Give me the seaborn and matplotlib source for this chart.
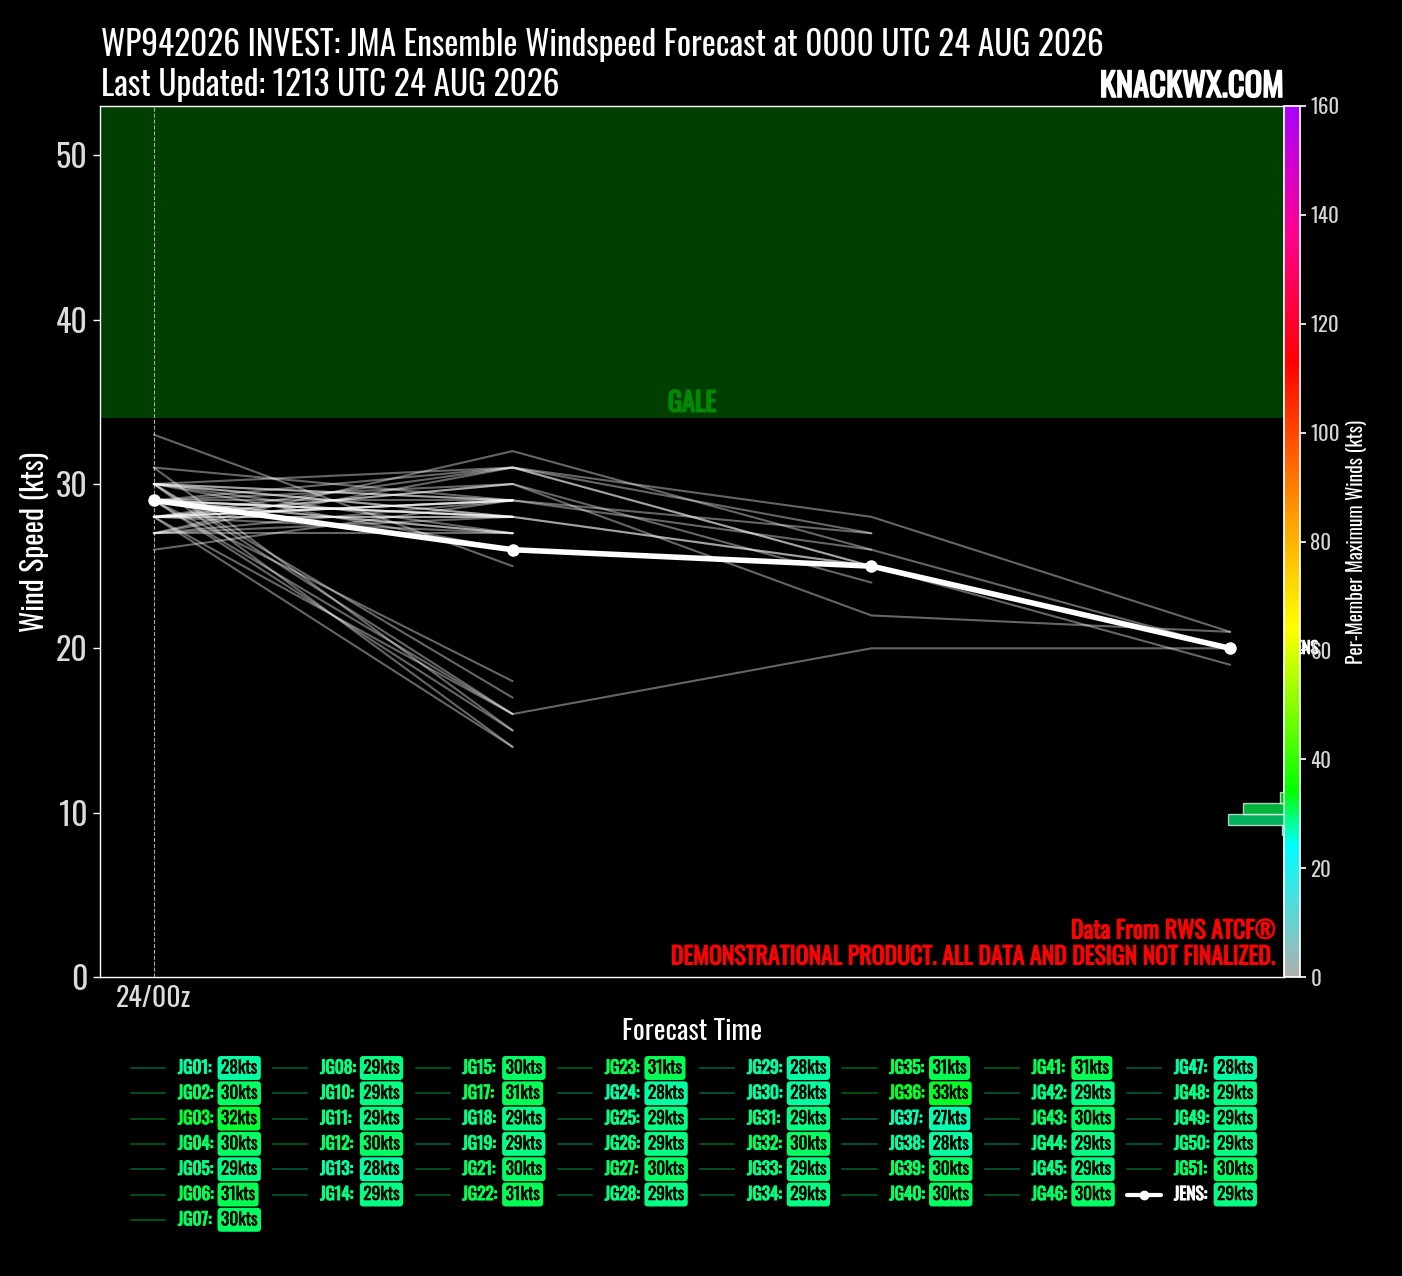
import numpy as np
import pandas as pd
import seaborn as sns
import matplotlib
matplotlib.use("Agg")
import matplotlib.pyplot as plt
import matplotlib.transforms as mtransforms
import matplotlib.patheffects as pe
from matplotlib import font_manager
from matplotlib.colors import LinearSegmentedColormap, Normalize
from matplotlib.cm import ScalarMappable
from matplotlib.lines import Line2D

nan = float("nan")

# forecast hours after 0000 UTC 24 AUG
hours = [0, 6, 12, 18]
tick_hours = [0]
tick_labels = ["24/00z"]

members = ["JG01", "JG02", "JG03", "JG04", "JG05", "JG06", "JG07", "JG08", "JG10", "JG11",
           "JG12", "JG13", "JG14", "JG15", "JG17", "JG18", "JG19", "JG21", "JG22", "JG23",
           "JG24", "JG25", "JG26", "JG27", "JG28", "JG29", "JG30", "JG31", "JG32", "JG33",
           "JG34", "JG35", "JG36", "JG37", "JG38", "JG39", "JG40", "JG41", "JG42", "JG43",
           "JG44", "JG45", "JG46", "JG47", "JG48", "JG49", "JG50", "JG51"]

# windspeed (kts) per member at each forecast hour
wind_00 = [28, 30, 27, 30, 29, 31, 30, 29, 28, 29,
           30, 28, 29, 30, 28, 29, 27, 30, 29, 30,
           28, 29, 26, 30, 29, 27, 28, 29, 29, 28,
           29, 27, 33, 27, 28, 28, 30, 31, 29, 30,
           28, 29, 30, 28, 29, 29, 28, 28]
wind_06 = [28, 28, 32, 29, 28, 29, 27, 29, 29, 27,
           16, 16, 16, 17, 31, 28, 29, 28, 31, 31,
           28, 15, 29, 14, 28, 28, 14, nan, 30, 29,
           18, 31, 25, 27, nan, 30, 26, 15, 28, nan,
           29, nan, 29, 27, 27, nan, 29, 30]
wind_12 = [nan, nan, 26, nan, nan, 27, nan, nan, nan, nan,
           nan, nan, 20, nan, 28, nan, nan, 25, 25, 27,
           nan, nan, nan, nan, 25, nan, nan, nan, 24, nan,
           nan, 25, nan, nan, nan, 22, nan, nan, nan, nan,
           26, nan, nan, nan, nan, nan, nan, nan]
wind_18 = [nan, nan, 20, nan, nan, nan, nan, nan, nan, nan,
           nan, nan, 20, nan, 21, nan, nan, nan, nan, nan,
           nan, nan, nan, nan, nan, nan, nan, nan, nan, nan,
           nan, 19, nan, nan, nan, 21, nan, nan, nan, nan,
           nan, nan, nan, nan, nan, nan, nan, nan]

jens_wind = [29, 26, 25, 20]

# colour scale for per-member maximum winds
cmap_levels = [0, 24, 34, 64, 83, 113, 137, 160]
cmap_colors = ["#b0b0b0", "#00ffff", "#00ff00", "#ffff00", "#ffa500", "#ff0000", "#ff0090", "#aa00ff"]

W, H = 1402, 1276

sns.set_theme(style="dark", rc={
    "figure.facecolor": "black", "axes.facecolor": "black",
    "axes.edgecolor": "white", "text.color": "white",
    "axes.labelcolor": "white", "xtick.color": "white", "ytick.color": "white",
})
names = {f.name for f in font_manager.fontManager.ttflist}
cond = next((n for n in ["Oswald", "Liberation Sans Narrow", "Roboto Condensed"] if n in names), "DejaVu Sans")
light = next((n for n in sorted(names) if "Oswald" in n and "Light" in n), cond)
plt.rcParams["font.family"] = [cond, "DejaVu Sans"]


def bold(color, w=1.0):
    # the condensed face has no heavy weight here, thicken with a stroke
    return [pe.withStroke(linewidth=w, foreground=color)]


cmap = LinearSegmentedColormap.from_list(
    "wind", [(v / 160, c) for v, c in zip(cmap_levels, cmap_colors)])
norm = Normalize(0, 160)

df = pd.DataFrame({"member": members, 0: wind_00, 6: wind_06, 12: wind_12, 18: wind_18})
long = df.melt(id_vars="member", var_name="hour", value_name="wind").dropna()
long["hour"] = long["hour"].astype(float)
max_wind = df[hours].max(axis=1).astype(int).tolist()

fig = plt.figure(figsize=(W / 100, H / 100), dpi=100)
ax = fig.add_axes([100 / W, 1 - 977 / H, 1184 / W, 871 / H])
cax = fig.add_axes([1284 / W, 1 - 977 / H, 16 / W, 871 / H])

# gale band
ax.axhspan(34, 64, color="#003f00", zorder=0, lw=0)
gtr = mtransforms.blended_transform_factory(ax.transAxes, ax.transData)
ax.text(0.5, 34.1, "GALE", transform=gtr, ha="center", va="bottom",
        color="#008a00", fontsize=19, path_effects=bold("#008a00", 1.2))

ax.axvline(0, color="#aaaaaa", ls="--", lw=0.8, zorder=1)

sns.lineplot(data=long, x="hour", y="wind", units="member", estimator=None,
             color="white", alpha=0.4, lw=1.5, legend=False, ax=ax, zorder=2)
ax.plot(hours, jens_wind, color="white", lw=4, marker="o", ms=8, zorder=4)
ax.text(hours[-1] + 1.0, jens_wind[-1], "JENS", color="white", fontsize=12,
        va="center", ha="left", clip_on=False, zorder=4, path_effects=bold("white", 0.8))

ax.set_xlim(-0.9, 18.9)
ax.set_ylim(0, 53)
ax.set_xticks(tick_hours)
ax.set_xticklabels(tick_labels, fontfamily=light)
ax.set_yticks(range(0, 51, 10))
ax.set_yticklabels([str(v) for v in range(0, 51, 10)], fontfamily=light)
ax.tick_params(axis="x", length=0, labelsize=20, labelcolor="#dcdcdc", pad=6)
ax.tick_params(axis="y", length=5, width=1, labelsize=23, labelcolor="#dcdcdc", left=True, pad=4)
ax.set_xlabel("Forecast Time", fontsize=20, labelpad=4)
ax.set_ylabel("Wind Speed (kts)", fontsize=21, labelpad=5)
for s in ax.spines.values():
    s.set_color("white")
    s.set_linewidth(1)
ax.grid(False)

ax.text(0.9932, 0.0528, "Data From RWS ATCF®", transform=ax.transAxes, ha="right", va="center",
        color="red", fontsize=17.2, path_effects=bold("red", 0.8))
ax.text(0.9932, 0.023, "DEMONSTRATIONAL PRODUCT. ALL DATA AND DESIGN NOT FINALIZED.",
        transform=ax.transAxes, ha="right", va="center", color="red", fontsize=17.2,
        path_effects=bold("red", 0.8))

# per-member max wind histogram along colour scale
hax = fig.add_axes(ax.get_position(), frameon=False, zorder=3)
counts, edges = np.histogram(max_wind, bins=np.arange(0, 162, 2))
keep = counts > 0
hax.barh(edges[:-1][keep], counts[keep], height=2, align="edge",
         color=[cmap(norm(e + 1)) for e in edges[:-1][keep]], alpha=0.7)
hax.set_ylim(0, 160)
hax.set_xlim(550, 0)
hax.axis("off")

cb = fig.colorbar(ScalarMappable(norm=norm, cmap=cmap), cax=cax, ticks=range(0, 161, 20))
cb.outline.set_edgecolor("white")
cax.set_yticklabels([str(v) for v in range(0, 161, 20)], fontfamily=light)
cax.tick_params(labelsize=15, labelcolor="#d6d6d6", length=4, color="white")
cb.set_label("Per-Member Maximum Winds (kts)", fontsize=14, color="white", labelpad=4)

# titles
fig.text(101 / W, 1 - 45 / H, "WP942026 INVEST: JMA Ensemble Windspeed Forecast at 0000 UTC 24 AUG 2026",
         fontsize=24, va="center", ha="left")
fig.text(101 / W, 1 - 85 / H, "Last Updated: 1213 UTC 24 AUG 2026", fontsize=24, va="center", ha="left")
fig.text(1284 / W, 1 - 87 / H, "KNACKWX.COM", fontsize=23.5, va="center", ha="right",
         path_effects=bold("white", 1.2))

# legend laid out as 8 columns
rows_per_col = [7, 6, 6, 6, 6, 6, 6, 6]
slots = [(c, r) for c, n in enumerate(rows_per_col) for r in range(n)]
labels = members + ["JENS"]
label_max = max_wind + [jens_wind[0]]
for i, (lab, mx) in enumerate(zip(labels, label_max)):
    c, r = slots[i]
    x0 = 131 + c * 142.3
    yf = 1 - (1068 + r * 25.3) / H
    col = cmap(norm(mx))
    if lab == "JENS":
        fig.add_artist(Line2D([x0 / W, (x0 + 17) / W, (x0 + 34) / W], [yf] * 3, transform=fig.transFigure,
                              color="white", lw=3, marker="o", ms=6, markevery=[1]))
        tcol = "white"
    else:
        fig.add_artist(Line2D([x0 / W, (x0 + 34) / W], [yf, yf], transform=fig.transFigure,
                              color=col, alpha=0.3, lw=1.5))
        tcol = col
    fig.text((x0 + 47) / W, yf, lab + ":", color=tcol, fontsize=12.5, va="center", ha="left",
             path_effects=bold(tcol, 0.8))
    fig.text((x0 + 90) / W, yf, f"{mx}kts", color="black", fontsize=12.5, va="center", ha="left",
             path_effects=bold("black", 0.4),
             bbox=dict(boxstyle="round,pad=0.2", fc=col, ec="none"))

fig.savefig("out.png", dpi=100, facecolor="black")
